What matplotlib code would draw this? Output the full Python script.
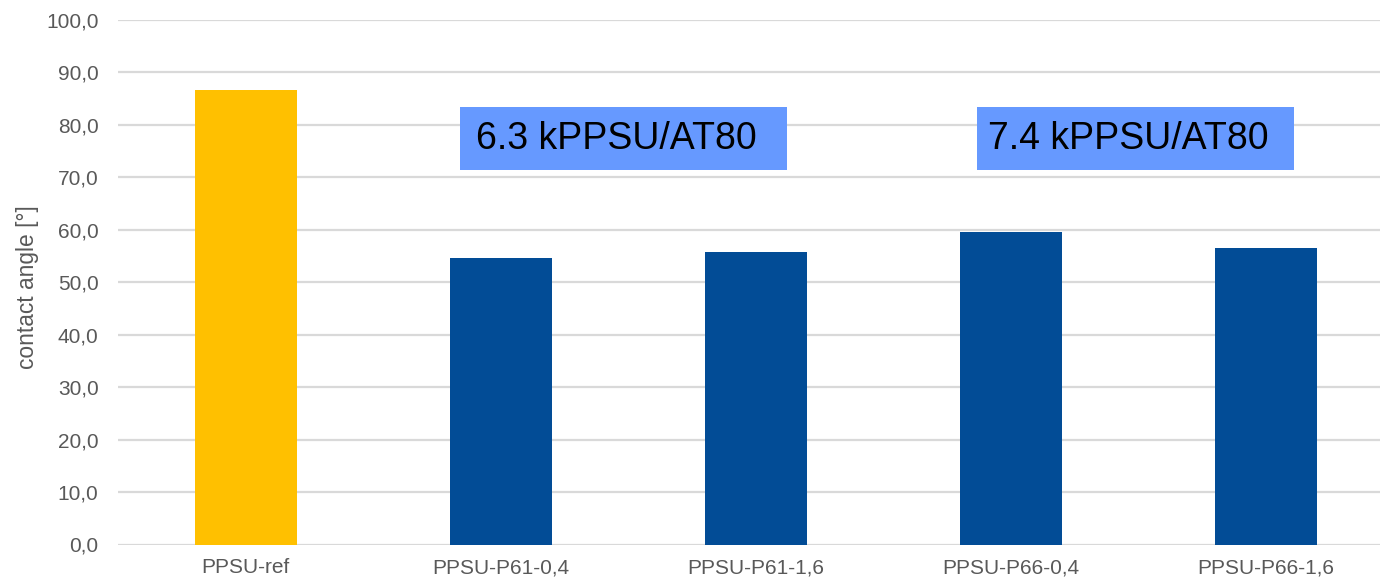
import matplotlib.pyplot as plt
from matplotlib.patches import Rectangle

plt.rcParams['font.family'] = ['Liberation Sans', 'DejaVu Sans']

# data
samples = ['PPSU-ref', 'PPSU-P61-0,4', 'PPSU-P61-1,6', 'PPSU-P66-0,4', 'PPSU-P66-1,6']
contact_angle = [86.7, 54.6, 55.8, 59.5, 56.6]
bar_colors = ['#FFC000', '#024C96', '#024C96', '#024C96', '#024C96']
y_ticks = [0, 10, 20, 30, 40, 50, 60, 70, 80, 90, 100]
group_labels = ['6.3 kPPSU/AT80', '7.4 kPPSU/AT80']

W, H = 1380, 579
fig = plt.figure(figsize=(W / 100, H / 100), dpi=100)
ax = fig.add_axes([118 / W, (H - 544.5) / H, (1380 - 118) / W, (544.5 - 20) / H])

x = range(len(samples))
ax.bar(x, contact_angle, width=0.4, color=bar_colors, zorder=3)

ax.set_ylim(0, 100)
ax.set_xlim(-0.5, 4.447)
ax.set_yticks(y_ticks)
ax.set_yticklabels([f'{t:.1f}'.replace('.', ',') for t in y_ticks])
ax.set_xticks(list(x))
ax.set_xticklabels(samples)
ax.tick_params(axis='both', length=0, labelsize=15, colors='#595959')
ax.tick_params(axis='y', pad=14)
ax.tick_params(axis='x', pad=10)
ax.yaxis.grid(True, color='#D9D9D9', linewidth=1.6, zorder=0)
for s in ax.spines.values():
    s.set_visible(False)
ax.set_ylabel('contact angle [°]', fontsize=16.4, color='#595959')
ax.yaxis.set_label_coords(-79 / (1380 - 118), 0.49)

# group annotation boxes (data coords)
boxes = [(0.842, 2.123), (2.868, 4.110)]
for (x0, x1), lab in zip(boxes, group_labels):
    ax.add_patch(Rectangle((x0, 71.4), x1 - x0, 12.0, facecolor='#6699FF',
                           edgecolor='none', zorder=4))
    ax.text((x0 + x1) / 2 - 0.03, 77.4, lab, ha='center', va='center',
            fontsize=27, color='black', zorder=5)

fig.savefig('out.png', dpi=100)
